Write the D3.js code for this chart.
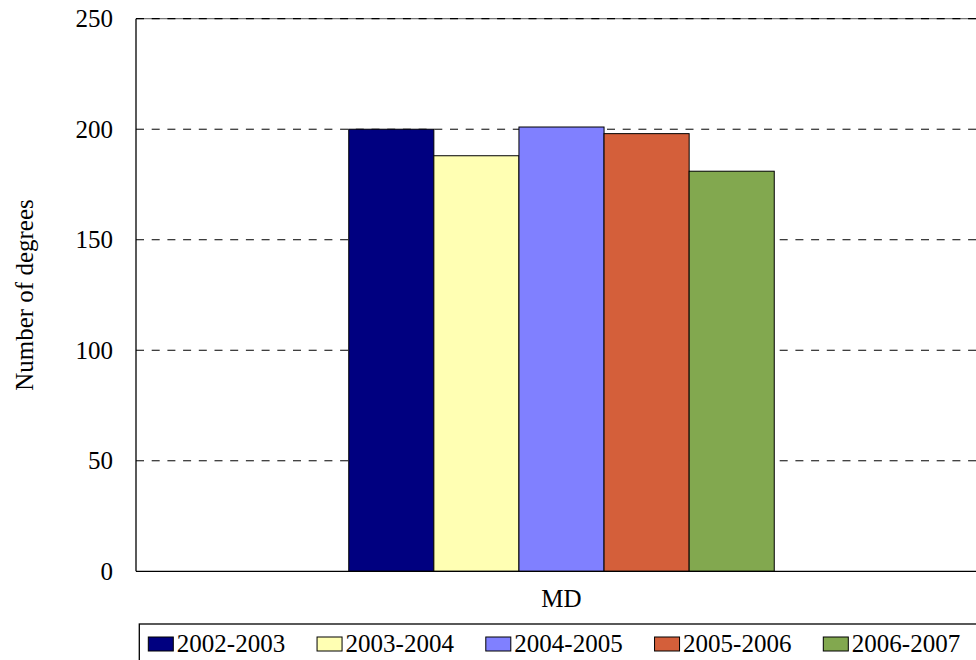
<!DOCTYPE html>
<html>
<head>
<meta charset="utf-8">
<script src="https://cdn.jsdelivr.net/npm/d3@7"></script>
<style>
  html, body { margin: 0; padding: 0; background: #fff; }
  svg { display: block; }
</style>
</head>
<body>
<svg id="chart" width="976" height="660" font-family="'Liberation Serif', 'DejaVu Serif', serif"></svg>
<script>
const categories = ["MD"];
const seriesNames = ["2002-2003", "2003-2004", "2004-2005", "2005-2006", "2006-2007"];
const seriesValues = [[200], [188], [201], [198], [181]];
const seriesColors = ["#000080", "#FFFFB3", "#8080FF", "#D45F3A", "#82A84F"];
const yTicks = [0, 50, 100, 150, 200, 250];
const yLabel = "Number of degrees";

const FS = 25;
const svg = d3.select("#chart");
const plot = { left: 136, right: 987, top: 18.7, bottom: 571.3 };

const y = d3.scaleLinear().domain([0, 250]).range([plot.bottom, plot.top]);
const x0 = d3.scaleBand().domain(categories).range([plot.left, plot.right]).padding(0);
const x1 = d3.scaleBand().domain(seriesNames)
  .range([x0.bandwidth() * 0.25, x0.bandwidth() * 0.75]).padding(0);

// gridlines
svg.append("g").selectAll("line")
  .data(yTicks.filter(t => t > 0 && t < 250))
  .join("line")
  .attr("x1", plot.left).attr("x2", plot.right)
  .attr("y1", d => y(d)).attr("y2", d => y(d))
  .attr("stroke", "#000").attr("stroke-width", 1)
  .attr("stroke-dasharray", "8,7.7");

// top border + dashed gridline
svg.append("line")
  .attr("x1", plot.left).attr("x2", plot.right)
  .attr("y1", y(250)).attr("y2", y(250))
  .attr("stroke", "#777").attr("stroke-width", 1.3);
svg.append("line")
  .attr("x1", plot.left).attr("x2", plot.right)
  .attr("y1", y(250)).attr("y2", y(250))
  .attr("stroke", "#000").attr("stroke-width", 1.3)
  .attr("stroke-dasharray", "8,7.7");

// bars
const groups = svg.append("g").selectAll("g")
  .data(categories)
  .join("g")
  .attr("transform", d => `translate(${x0(d)},0)`);

categories.forEach((cat, ci) => {
  const g = groups.filter(d => d === cat);
  g.selectAll("rect")
    .data(seriesNames.map((s, si) => ({ s, v: seriesValues[si][ci], c: seriesColors[si] })))
    .join("rect")
    .attr("x", d => x1(d.s))
    .attr("y", d => y(d.v))
    .attr("width", x1.bandwidth())
    .attr("height", d => y(0) - y(d.v))
    .attr("fill", d => d.c)
    .attr("stroke", "#000")
    .attr("stroke-width", 1);
});

// axes lines
svg.append("line")
  .attr("x1", plot.left).attr("x2", plot.left)
  .attr("y1", plot.top).attr("y2", plot.bottom)
  .attr("stroke", "#000").attr("stroke-width", 1.3);
svg.append("line")
  .attr("x1", plot.left).attr("x2", plot.right)
  .attr("y1", plot.bottom).attr("y2", plot.bottom)
  .attr("stroke", "#000").attr("stroke-width", 1.3);

// y tick labels
svg.append("g").selectAll("text")
  .data(yTicks)
  .join("text")
  .attr("x", 113)
  .attr("y", d => y(d))
  .attr("dy", "0.34em")
  .attr("text-anchor", "end")
  .attr("font-size", FS)
  .text(d => d);

// x category label
svg.append("g").selectAll("text")
  .data(categories)
  .join("text")
  .attr("x", d => x0(d) + x0.bandwidth() / 2)
  .attr("y", 606.5)
  .attr("text-anchor", "middle")
  .attr("font-size", FS)
  .text(d => d);

// y axis label
svg.append("text")
  .attr("transform", `translate(33,${(plot.top + plot.bottom) / 2}) rotate(-90)`)
  .attr("text-anchor", "middle")
  .attr("font-size", FS)
  .text(yLabel);

// legend
const legend = svg.append("g");
legend.append("rect")
  .attr("x", 139.3).attr("y", 624)
  .attr("width", 860).attr("height", 60)
  .attr("fill", "#fff").attr("stroke", "#000").attr("stroke-width", 1.3);
const lx = d3.scalePoint().domain(seriesNames).range([148.3, 823.3]);
const items = legend.selectAll("g.item")
  .data(seriesNames.map((s, i) => ({ s, c: seriesColors[i] })))
  .join("g").attr("class", "item")
  .attr("transform", d => `translate(${lx(d.s)},0)`);
items.append("rect")
  .attr("x", 0).attr("y", 637)
  .attr("width", 25).attr("height", 14)
  .attr("fill", d => d.c).attr("stroke", "#000").attr("stroke-width", 1);
items.append("text")
  .attr("x", 28.5).attr("y", 651.5)
  .attr("font-size", FS)
  .text(d => d.s);
</script>
</body>
</html>
